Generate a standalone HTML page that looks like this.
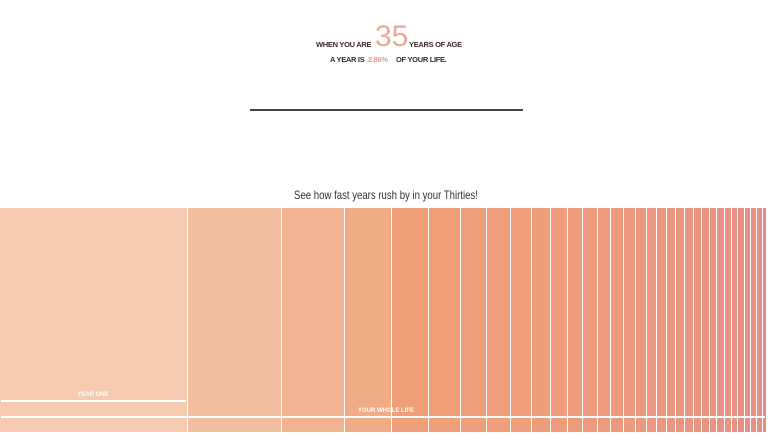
<!DOCTYPE html>
<html><head><meta charset="utf-8"><style>
body{margin:0;width:768px;height:443px;background:#fff;position:relative;overflow:hidden;font-family:"Liberation Sans",sans-serif}
.t{position:absolute;white-space:nowrap}
.b{font-weight:bold;font-size:7.5px;color:#3a2a2a;letter-spacing:-0.3px}
#bars{position:absolute;left:0;top:208px;width:766px;height:224px;overflow:hidden}
#bars div{position:absolute;top:0;height:224px}
.lbl{position:absolute;color:#fff;font-weight:bold;font-size:6px;white-space:nowrap;transform:translateX(-50%)}
</style></head><body>
<div class="t b" style="left:316px;top:40px">WHEN YOU ARE</div>
<div class="t" style="left:375px;top:20px;font-size:30px;color:#eaa898;letter-spacing:0px">35</div>
<div class="t b" style="left:409px;top:40px">YEARS OF AGE</div>
<div class="t b" style="left:330px;top:55px">A YEAR IS</div>
<div class="t b" style="left:368px;top:55px;color:#e89a8c">2.86%</div>
<div class="t b" style="left:396px;top:55px">OF YOUR LIFE.</div>
<div style="position:absolute;left:250px;top:109px;width:273px;height:2px;background:#444"></div>
<div class="t" style="left:0;width:772px;text-align:center;top:188px;font-size:12px;color:#333;transform:scaleX(0.8)">See how fast years rush by in your Thirties!</div>
<div id="bars"></div>
<div style="position:absolute;left:1px;top:400px;width:185px;height:2px;background:#fff"></div>
<div class="lbl" style="left:93px;top:392px">YEAR ONE</div>
<div style="position:absolute;left:1px;top:416px;width:764px;height:2px;background:#fff"></div>
<div class="lbl" style="left:386px;top:408px">YOUR WHOLE LIFE</div>
<script>
var u=188,x=0,h='';
function lerp(a,b,t){return a.map((v,i)=>Math.round(v+(b[i]-v)*t));}
var first=[[245,202,176],[243,190,160],[241,180,145],[239,172,133],[240,160,120]];
var c1=[240,160,120],c2=[230,140,135];
for(var n=1;n<=40;n++){var w=u/n;var c=n<=5?first[n-1]:lerp(c1,c2,Math.min(1,(n-5)/30));
h+='<div style="left:'+x.toFixed(2)+'px;width:'+(w-1).toFixed(2)+'px;background:rgb('+c.join(',')+')"></div>';x+=w;}
document.getElementById('bars').innerHTML=h;
</script>
</body></html>
